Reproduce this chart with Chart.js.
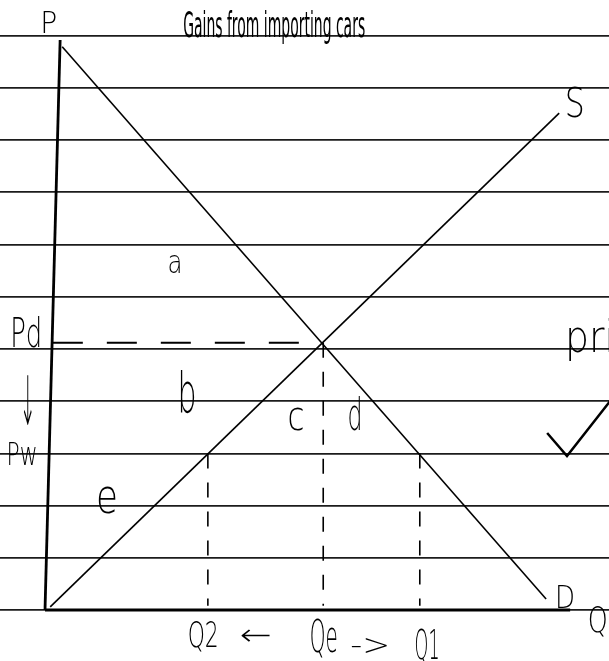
<!DOCTYPE html>
<html>
<head>
<meta charset="utf-8">
<script src="https://cdn.jsdelivr.net/npm/chart.js@4/dist/chart.umd.min.js"></script>
<style>
  html, body { margin: 0; padding: 0; background: #fff; }
  canvas { display: block; }
</style>
</head>
<body>
<canvas id="gains" width="609" height="661"></canvas>
<script>
// ruled paper lines, one unit apart
const rules = [0, 1, 2, 3, 4, 5, 6, 7, 8, 9, 10, 11];

// axes
const priceAxis = [{ x: 0, y: 0 }, { x: 0.29, y: 10.92 }];
const qtyAxis = [{ x: 0, y: 0 }, { x: 10.06, y: 0 }];

// curves
const demand = [{ x: 0.33, y: 10.79 }, { x: 9.60, y: 0.21 }];
const supply = [{ x: 0.10, y: 0.06 }, { x: 9.85, y: 9.52 }];

// domestic equilibrium and world price
const qe = 5.33;
const pd = 5.12;
const pw = 3.0;
const q2 = 3.12;
const q1 = 7.18;

// tick mark scribbled at the right margin
const check = [{ x: 9.62, y: 3.39 }, { x: 10.0, y: 2.95 }, { x: 10.92, y: 4.12 }];

// handwritten labels: text, x, y (baseline), font px, target width px, weight, align
const notes = [
  ['P', 0.07, 11.05, 30, 17],
  ['Gains from importing cars', 4.39, 10.98, 36, 182, 400],
  ['S', 10.15, 9.44, 40, 20],
  ['a', 2.49, 6.46, 32, 15],
  ['Pd', -0.36, 5.04, 40, 32],
  ['↓', -0.33, 3.54, 68, 16],
  ['b', 2.72, 3.79, 56, 19],
  ['c', 4.81, 3.45, 40, 17],
  ['d', 5.94, 3.45, 44, 15],
  ['Pw', -0.44, 2.78, 32, 31],
  ['e', 1.19, 1.86, 48, 22],
  ['pri', 9.96, 4.94, 45, 50, 300, 'left'],
  ['D', 9.96, 0.04, 32, 20],
  ['Q', 10.59, -0.42, 36, 20],
  ['Q2', 3.03, -0.71, 36, 31],
  ['←', 4.04, -0.68, 30, 32],
  ['Qe', 5.34, -0.80, 44, 28],
  ['->', 6.23, -0.86, 30, 40],
  ['Q1', 7.32, -0.94, 40, 25]
];

function line(data, width, dash) {
  return {
    data: data,
    showLine: true,
    borderColor: '#000',
    borderWidth: width,
    borderDash: dash || [],
    pointRadius: 0,
    fill: false
  };
}

function drop(q, p) {
  return line([{ x: q, y: p }, { x: q, y: 0.08 }], 1.6, [15, 14]);
}

const notesPlugin = {
  id: 'notes',
  afterDatasetsDraw(chart) {
    const ctx = chart.ctx;
    const xs = chart.scales.x;
    const ys = chart.scales.y;
    ctx.save();
    ctx.fillStyle = '#000';
    ctx.textBaseline = 'alphabetic';
    notes.forEach(n => {
      const [text, x, y, size, w, weight, align] = n;
      ctx.font = (weight || 300) + ' ' + size + 'px "DejaVu Sans", sans-serif';
      const sx = w / ctx.measureText(text).width;
      ctx.save();
      ctx.translate(xs.getPixelForValue(x), ys.getPixelForValue(y));
      ctx.scale(sx, 1);
      ctx.textAlign = align || 'center';
      ctx.fillText(text, 0, 0);
      ctx.restore();
    });
    ctx.restore();
  }
};

new Chart(document.getElementById('gains'), {
  type: 'scatter',
  data: {
    datasets: [
      line(priceAxis, 2.8),
      line(qtyAxis, 3),
      line(demand, 1.6),
      line(supply, 1.6),
      line([{ x: 0.15, y: pd }, { x: qe, y: pd }], 2, [30, 24]),
      drop(q2, pw),
      drop(qe, pd),
      drop(q1, pw),
      line(check, 2.5)
    ]
  },
  options: {
    responsive: false,
    animation: false,
    devicePixelRatio: 1,
    layout: { padding: 0 },
    plugins: {
      legend: { display: false },
      tooltip: { enabled: false }
    },
    scales: {
      x: {
        type: 'linear',
        min: -45 / 52.2,
        max: 564 / 52.2,
        display: false
      },
      y: {
        type: 'linear',
        min: -51 / 52.2,
        max: 610 / 52.2,
        afterBuildTicks: axis => { axis.ticks = rules.map(v => ({ value: v })); },
        ticks: { display: false },
        grid: { drawTicks: false, color: '#1c1c1c', lineWidth: 1.8 },
        border: { display: false }
      }
    }
  },
  plugins: [notesPlugin]
});
</script>
</body>
</html>
